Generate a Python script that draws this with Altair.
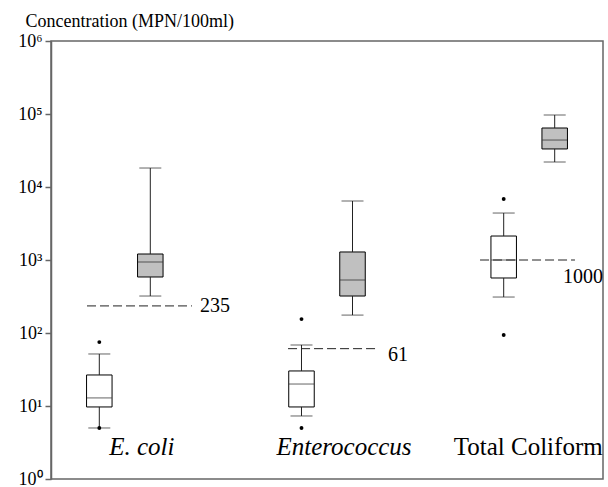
import altair as alt
import pandas as pd

organisms = ["E. coli", "Enterococcus", "Total Coliform"]
groups = ["Group A", "Group B"]

# Five-number summaries, group A (open boxes), MPN/100ml
a_low = [5.0, 7.3, 311]
a_q1 = [9.7, 9.7, 567]
a_med = [12.9, 20.0, 1000]
a_q3 = [26.6, 30.2, 2130]
a_high = [51.6, 68.5, 4400]

# Five-number summaries, group B (shaded boxes), MPN/100ml
b_low = [321, 176, 22000]
b_q1 = [585, 321, 33200]
b_med = [939, 532, 44000]
b_q3 = [1208, 1288, 64300]
b_high = [18200, 6430, 96900]

# Outlying samples (group A)
outlier_organism = ["E. coli", "E. coli", "Enterococcus", "Enterococcus",
                    "Total Coliform", "Total Coliform"]
outlier_value = [75, 5, 155, 5, 6850, 94]

# Water-quality standards per indicator
standards = [235, 61, 1000]

FONT = "Liberation Serif"
AXIS_GRAY = "#666666"

boxes = pd.DataFrame({
    "organism": organisms * 2,
    "group": [groups[0]] * 3 + [groups[1]] * 3,
    "low": a_low + b_low,
    "q1": a_q1 + b_q1,
    "med": a_med + b_med,
    "q3": a_q3 + b_q3,
    "high": a_high + b_high,
})
outliers = pd.DataFrame({
    "organism": outlier_organism,
    "group": groups[0],
    "value": outlier_value,
})
limits = pd.DataFrame({
    "organism": organisms,
    "value": standards,
    "label": [str(v) for v in standards],
})

x_scale = alt.Scale(domain=organisms, paddingInner=0.27, paddingOuter=0)
x_axis = alt.Axis(
    title=None, domain=False, ticks=False, tickSize=0, grid=False,
    labelAngle=0, labelFont=FONT, labelFontSize=25, labelColor="black",
    labelBaseline="alphabetic", labelPadding=-25,
    labelFontStyle={"condition": {"test": "datum.value === 'Total Coliform'", "value": "normal"},
                    "value": "italic"},
    labelOffset={"condition": {"test": "datum.value === 'Total Coliform'", "value": -1},
                 "value": 17},
)
y_scale = alt.Scale(type="log", domain=[1, 1e6], nice=False)
y_axis = alt.Axis(
    title="Concentration (MPN/100ml)", values=[1, 10, 100, 1e3, 1e4, 1e5, 1e6],
    labelExpr="'10' + ['⁰','¹','²','³','⁴','⁵','⁶'][round(log(datum.value) / LN10)]",
    grid=False, tickSize=6, tickColor=AXIS_GRAY, tickWidth=1.5,
    domainColor=AXIS_GRAY, domainWidth=1.5,
    labelFont=FONT, labelFontSize=18, labelColor="black", labelPadding=3,
    titleAngle=0, titleAlign="left", titleBaseline="alphabetic",
    titleX=-26, titleY=-15, titleFont=FONT, titleFontSize=18,
    titleFontWeight="normal", titleColor="black",
)
off_scale = alt.Scale(domain=groups, paddingInner=0.5, paddingOuter=0.697)


def xe(band=None):
    if band is None:
        return alt.X("organism:N", scale=x_scale, axis=x_axis)
    return alt.X("organism:N", scale=x_scale, axis=x_axis, bandPosition=band)


def ye(field):
    return alt.Y(f"{field}:Q", scale=y_scale, axis=y_axis)


xo = alt.XOffset("group:N", scale=off_scale)
base = alt.Chart(boxes)

box = base.mark_bar(stroke="black", strokeWidth=1).encode(
    x=xe(), xOffset=xo, y=ye("q1"), y2="q3",
    fill=alt.Fill("group:N", scale=alt.Scale(domain=groups, range=["white", "#c0c0c0"]), legend=None),
)
whisk_lo = base.mark_rule(color="#222", strokeWidth=1).encode(x=xe(), xOffset=xo, y=ye("low"), y2="q1")
whisk_hi = base.mark_rule(color="#222", strokeWidth=1).encode(x=xe(), xOffset=xo, y=ye("q3"), y2="high")
cap_lo = base.mark_tick(color="#222", size=22, thickness=1).encode(x=xe(), xOffset=xo, y=ye("low"))
cap_hi = base.mark_tick(color="#222", size=22, thickness=1).encode(x=xe(), xOffset=xo, y=ye("high"))
median = base.mark_tick(color="#222", size=25, thickness=1).encode(x=xe(), xOffset=xo, y=ye("med"))

dots = alt.Chart(outliers).mark_circle(size=15, color="black", opacity=1).encode(
    x=xe(), xOffset=alt.XOffset("group:N", scale=off_scale), y=ye("value"),
)

# dashed standard lines with their value labels:
# (line start, line end, label anchor as band fractions, label dx, label dy)
limit_style = [(0.244, 0.955, 0.955, 8, 0), (0.236, 0.846, 0.846, 10, 6), (0.167, 0.81, 0.729, 0, 17)]
limit_layers = []
for org, (b0, b1, bl, dx, dy) in zip(organisms, limit_style):
    one = alt.Chart(limits).transform_filter(alt.datum.organism == org)
    limit_layers.append(
        one.mark_rule(color="#222", strokeWidth=1, strokeDash=[9, 4]).encode(
            x=xe(b0), x2=alt.X2("organism:N", bandPosition=b1), y=ye("value"),
        )
    )
    limit_layers.append(
        one.mark_text(align="left", baseline="middle", font=FONT, fontSize=20, color="black",
                      dx=dx, dy=dy).encode(
            x=xe(bl), y=ye("value"), text="label:N",
        )
    )

chart = alt.layer(box, whisk_lo, whisk_hi, cap_lo, cap_hi, median, dots, *limit_layers).properties(
    width=552, height=438,
    padding={"left": 51, "top": 41, "right": 5, "bottom": 8},
    autosize=alt.AutoSizeParams(type="none"),
).configure_view(stroke=AXIS_GRAY, strokeWidth=1.5)

chart.save("out.html", embed_options={"renderer": "svg", "actions": False})
